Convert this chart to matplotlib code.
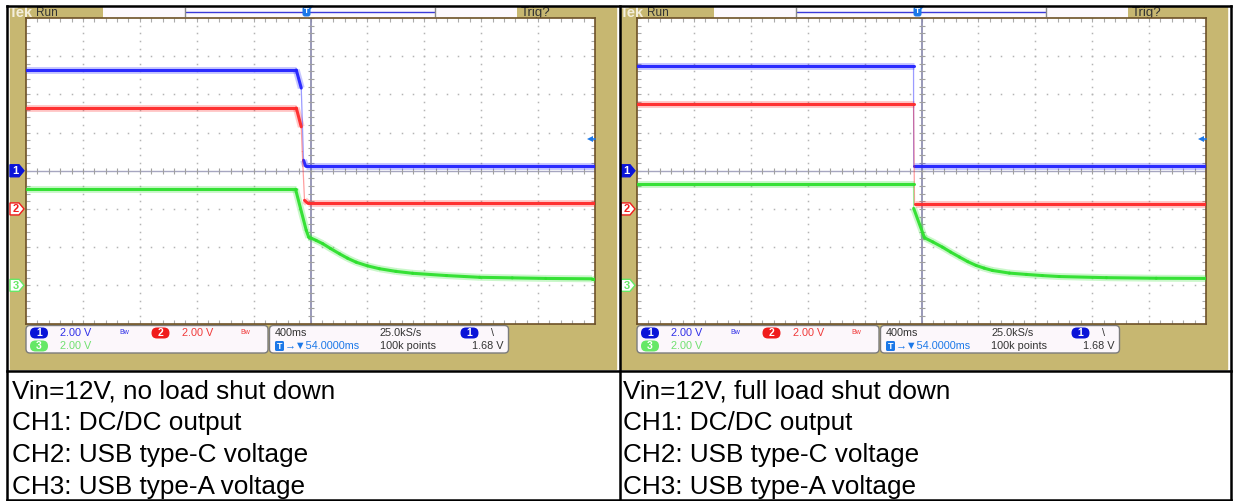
"""
Two Tek scope captures of the shutdown test, laid out as a 2x2 table
(scope screens on top, captions below).  Writes out.png.
"""
import numpy as np
import matplotlib
matplotlib.use("Agg")
import matplotlib.pyplot as plt
from matplotlib.patches import Rectangle, FancyBboxPatch, Polygon
from matplotlib.collections import LineCollection
from matplotlib.colors import to_rgba

plt.rcParams["font.family"] = ["Liberation Sans", "DejaVu Sans"]

# ---- scope settings ----
TIME_DIV_MS = 400
VOLT_DIV = 2.0
CH_OFFSET = {1: 0.0, 2: -1.0, 3: -3.0}     # ground marker positions, divisions
TRIG_LEVEL_V = 1.68
SCALE_TXT = "2.00 V"
READOUT = ["400ms", "25.0kS/s", "54.0000ms", "100k points", "1.68 V"]

# ---- no load shut down (left) : time ms from trigger, volts ----
NL_T1 = [-2000, -100, -65, -49, -35, 2000]
NL_V1 = [5.28, 5.28, 4.33, 0.55, 0.25, 0.25]
NL_T2 = [-2000, -100, -65, -58, -42, -21, 2000]
NL_V2 = [5.29, 5.29, 4.30, 3.00, 0.45, 0.31, 0.31]
NL_T3 = [-2000, -105, -30, -12, 5, 40, 86, 140, 204, 260, 321, 400, 484, 600, 718, 956, 1189, 1418, 1654, 1979, 2000]
NL_V3 = [5.03, 5.03, 2.88, 2.51, 2.47, 2.35, 2.18, 1.93, 1.65, 1.42, 1.21, 1.02, 0.87, 0.73, 0.63, 0.51, 0.42, 0.39, 0.36, 0.34, 0.34]

# ---- full load shut down (right) ----
FL_T1 = [-2000, -56, -55, 2000]
FL_V1 = [5.49, 5.49, 0.24, 0.24]
FL_T2 = [-2000, -56, -49, 2000]
FL_V2 = [5.49, 5.49, 0.24, 0.24]
FL_T3 = [-2000, -56, -55, 21, 80, 147, 205, 267, 325, 384, 440, 498, 618, 737, 850, 968, 1300, 1650, 2000]
FL_V3 = [5.33, 5.33, 4.03, 2.49, 2.27, 2.00, 1.74, 1.48, 1.24, 1.04, 0.90, 0.78, 0.64, 0.57, 0.51, 0.46, 0.40, 0.37, 0.36]

CAPTIONS = [
    ["Vin=12V, no load shut down", "CH1: DC/DC output",
     "CH2: USB type-C voltage", "CH3: USB type-A voltage"],
    ["Vin=12V, full load shut down", "CH1: DC/DC output",
     "CH2: USB type-C voltage", "CH3: USB type-A voltage"],
]

W, H = 1235, 501
GX0 = [26, 637]
GW = 569
GY0, GY1 = 18, 323.5
DIV_PX = (GY1 - GY0) / 8

BLUE, RED, GREEN = "#2323ff", "#ff2a2a", "#2ee02e"
B_BLUE, B_RED, B_GREEN = "#0a14d8", "#f01c1c", "#66e866"
T_BLUE = "#1c78e8"
TAN = "#c7b771"
DARK = "#333333"

fig = plt.figure(figsize=(W / 100, H / 100), dpi=100)
bg = fig.add_axes([0, 0, 1, 1])
bg.set_xlim(0, W)
bg.set_ylim(H, 0)
bg.axis("off")


def badge(x, y, label, fc, w=18, h=11):
    bg.add_patch(FancyBboxPatch((x - w / 2, y - h / 2), w, h,
                                boxstyle=f"round,pad=0,rounding_size={h / 2}",
                                fc=fc, ec="none", zorder=3))
    bg.text(x, y + 0.3, label, color="white", fontsize=7.5, fontweight="bold",
            ha="center", va="center", zorder=4)


def draw_trace(ax, t, v, ch, color):
    x = np.asarray(t, float)
    y = np.asarray(v, float) / VOLT_DIV + CH_OFFSET[ch]
    segs = np.stack([np.column_stack([x[:-1], y[:-1]]),
                     np.column_stack([x[1:], y[1:]])], axis=1)
    slope = np.abs(np.diff(y) / (np.diff(x) / TIME_DIV_MS))
    steep = slope > 8
    fuzz = [to_rgba(color, 0.0 if s else 0.25) for s in steep]
    core = [to_rgba(color, 0.45 if s else 0.95) for s in steep]
    ax.add_collection(LineCollection(segs, colors=fuzz, linewidths=np.where(steep, 1, 5.0),
                                     capstyle="butt", zorder=4))
    ax.add_collection(LineCollection(segs, colors=core, linewidths=np.where(steep, 0.9, 2.2),
                                     capstyle="round", joinstyle="round", zorder=5))


def screen(x0, traces, caption):
    ox = x0 - GX0[0]
    # tan bezel
    bg.add_patch(Rectangle((9.5 + ox, 7), 606.5, 362, color=TAN, zorder=0))
    # top status bar
    bg.text(9 + ox, 12.5, "Tek", color="#f4eedc", fontsize=10.5, fontweight="bold",
            va="center", zorder=3)
    bg.text(36 + ox, 12.5, "Run", color=DARK, fontsize=8.5, va="center", zorder=3)
    bg.add_patch(Rectangle((103 + ox, 7), 414, 10.5, fc="#fdf9fd", ec="none", zorder=1))
    bg.plot([186 + ox, 434 + ox], [11.5, 11.5], color="#3a3ad8", lw=1, zorder=2)
    for bx in (185, 435):
        bg.plot([bx + ox] * 2, [8, 16], color="#8a8a8a", lw=1, zorder=2)
    bg.text(521 + ox, 12.5, "Trig?", color=DARK, fontsize=9.5, va="center", zorder=3)

    # graticule
    ax = fig.add_axes([x0 / W, 1 - GY1 / H, GW / W, (GY1 - GY0) / H])
    ax.set_xlim(-5 * TIME_DIV_MS, 5 * TIME_DIV_MS)
    ax.set_ylim(-4, 4)
    ax.set_facecolor("white")
    for s in ax.spines.values():
        s.set_color("#6e5227")
        s.set_linewidth(1.2)
    tx = np.arange(-5 * TIME_DIV_MS, 5 * TIME_DIV_MS + 1, TIME_DIV_MS / 5)
    vy = np.arange(-4, 4.001, 0.2)
    ax.set_xticks(tx)
    ax.set_yticks(vy)
    ax.tick_params(direction="in", length=3, width=0.8, color="#ababab",
                   top=True, right=True, labelbottom=False, labelleft=False)
    for k in range(-4, 5):
        if k:
            ax.plot(np.full_like(vy, k * TIME_DIV_MS), vy, ls="", marker="s", ms=1.1,
                    mew=0, color="#b4b4b4", zorder=1)
    for j in range(-3, 4):
        if j:
            ax.plot(tx, np.full_like(tx, j), ls="", marker="s", ms=1.1, mew=0,
                    color="#b4b4b4", zorder=1)
    ax.axhline(0, color="#a6a6c0", lw=1, zorder=2)
    ax.axvline(0, color="#8888ac", lw=1.2, zorder=2)
    ax.plot(tx, np.zeros_like(tx), ls="", marker="|", ms=5, mew=0.8, color="#a0a0a0", zorder=2)
    ax.plot(np.zeros_like(vy), vy, ls="", marker="_", ms=5, mew=0.8, color="#a0a0a0", zorder=2)

    for (t, v, ch, c) in traces:
        draw_trace(ax, t, v, ch, c)

    # trigger level indicator on right edge
    lvl = TRIG_LEVEL_V / VOLT_DIV + CH_OFFSET[1]
    ax.plot([1975, 2000], [lvl, lvl], color=T_BLUE, lw=1.2, zorder=6, clip_on=False)
    ax.plot([1962], [lvl], marker="<", ms=5, mew=0, color=T_BLUE, zorder=6)

    # channel ground markers on left
    for ch, fc, ec, tc in ((1, B_BLUE, B_BLUE, "white"), (2, "white", B_RED, B_RED),
                           (3, "white", B_GREEN, B_GREEN)):
        y = GY0 + (4 - CH_OFFSET[ch]) * DIV_PX
        xl = 10 + ox
        bg.add_patch(Polygon([(xl, y - 6), (xl + 9, y - 6), (xl + 14, y), (xl + 9, y + 6), (xl, y + 6)],
                             closed=True, fc=fc, ec=ec, lw=1, zorder=3))
        bg.text(xl + 5.5, y + 0.5, str(ch), color=tc, fontsize=8, fontweight="bold",
                ha="center", va="center", zorder=4)

    # trigger position markers
    xc = x0 + GW / 2
    bg.add_patch(Polygon([(xc - 3.5, 18.5), (xc + 3.5, 18.5), (xc, 23)], closed=True,
                         fc=T_BLUE, ec="none", zorder=3))
    bg.add_patch(Polygon([(xc - 3, 5.5), (xc + 3, 5.5), (xc, 9.5)], closed=True,
                         fc=T_BLUE, ec="none", zorder=3))
    for (cx, cy, w, h, fs) in ((xc - 8, 30, 11, 12, 7.5), (xc - 4, 11.5, 8, 10, 6)):
        bg.add_patch(FancyBboxPatch((cx - w / 2, cy - h / 2), w, h,
                                    boxstyle="round,pad=0,rounding_size=2.5",
                                    fc=T_BLUE, ec="none", zorder=3))
        bg.text(cx, cy + 0.3, "T", color="white", fontsize=fs, fontweight="bold",
                ha="center", va="center", zorder=4)

    # readout boxes
    for (bx, bw) in ((26, 242), (269.5, 239)):
        bg.add_patch(FancyBboxPatch((bx + ox, 325.5), bw, 27.5,
                                    boxstyle="round,pad=0,rounding_size=4",
                                    fc="#fcf7fb", ec="#7c7c7c", lw=1, zorder=2))
    r1, r2 = 333, 346
    fs = 7.8
    badge(39 + ox, r1, "1", B_BLUE)
    bg.text(60 + ox, r1, SCALE_TXT, color="#3030e8", fontsize=fs, va="center", zorder=4)
    bg.text(119 + ox, r1, "Bw", color="#3030e8", fontsize=5, va="center", zorder=4)
    badge(160.5 + ox, r1, "2", B_RED)
    bg.text(182 + ox, r1, SCALE_TXT, color="#f03a3a", fontsize=fs, va="center", zorder=4)
    bg.text(240 + ox, r1, "Bw", color="#f03a3a", fontsize=5, va="center", zorder=4)
    badge(39 + ox, r2, "3", B_GREEN)
    bg.text(60 + ox, r2, SCALE_TXT, color="#70e070", fontsize=fs, va="center", zorder=4)

    bg.text(275 + ox, r1, READOUT[0], color=DARK, fontsize=fs, va="center", zorder=4)
    bg.text(380 + ox, r1, READOUT[1], color=DARK, fontsize=fs, va="center", zorder=4)
    badge(469.5 + ox, r1, "1", B_BLUE)
    bg.text(491 + ox, r1, "\\", color=DARK, fontsize=fs, va="center", zorder=4)
    bg.add_patch(FancyBboxPatch((275 + ox, r2 - 5), 9, 10, boxstyle="round,pad=0,rounding_size=1.5",
                                fc=T_BLUE, ec="none", zorder=3))
    bg.text(279.5 + ox, r2 + 0.3, "T", color="white", fontsize=6.5, fontweight="bold",
            ha="center", va="center", zorder=4)
    bg.text(285 + ox, r2, "\u2192\u25bc" + READOUT[2], color=T_BLUE, fontsize=fs,
            va="center", zorder=4)
    bg.text(380 + ox, r2, READOUT[3], color=DARK, fontsize=fs, va="center", zorder=4)
    bg.text(472 + ox, r2, READOUT[4], color=DARK, fontsize=fs, va="center", zorder=4)

    # caption cell
    for i, line in enumerate(caption):
        bg.text(12 + ox, 398 + 32 * i, line, color="black", fontsize=18.8,
                va="baseline", ha="left", zorder=4)


screen(GX0[0], [(NL_T1, NL_V1, 1, BLUE), (NL_T2, NL_V2, 2, RED), (NL_T3, NL_V3, 3, GREEN)],
       CAPTIONS[0])
screen(GX0[1], [(FL_T1, FL_V1, 1, BLUE), (FL_T2, FL_V2, 2, RED), (FL_T3, FL_V3, 3, GREEN)],
       CAPTIONS[1])

# table rules
kw = dict(color="black", lw=1.8, zorder=10, solid_capstyle="projecting")
bg.plot([7, 1230.5], [6, 6], **kw)
bg.plot([7, 1230.5], [371, 371], **kw)
bg.plot([7, 1230.5], [499.5, 499.5], **kw)
for xv in (7, 620, 1230.5):
    bg.plot([xv, xv], [6, 499.5], **kw)

fig.savefig("out.png", dpi=100)
